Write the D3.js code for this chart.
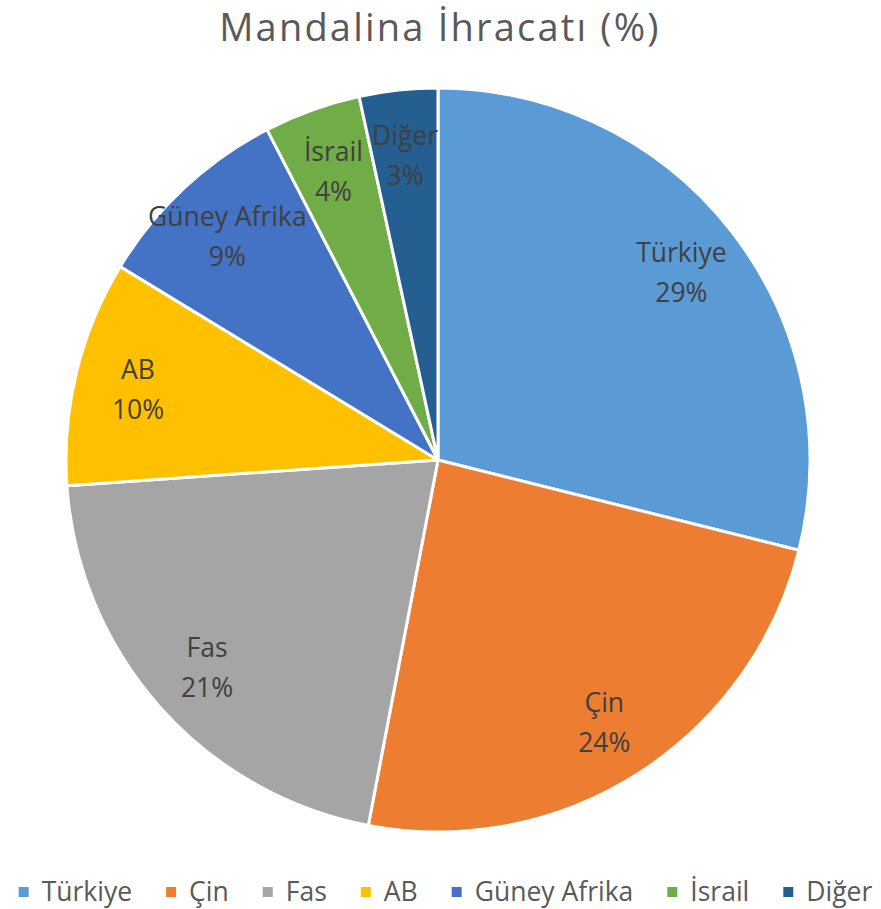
<!DOCTYPE html>
<html><head><meta charset="utf-8">
<script src="https://cdn.jsdelivr.net/npm/d3@7"></script>
<style>body{margin:0;background:#fff}svg{display:block}</style>
</head><body>
<svg id="c" width="881" height="909"></svg>
<script>
const categories = ["Türkiye", "Çin", "Fas", "AB", "Güney Afrika", "İsrail", "Diğer"];
const values = [28.9, 24.1, 20.9, 9.8, 8.7, 4.2, 3.4];
const colors = ["#5B9BD5", "#ED7D31", "#A5A5A5", "#FFC000", "#4472C4", "#70AD47", "#255E91"];
const title = "Mandalina İhracatı (%)";

const font = "'Open Sans', sans-serif";
const svg = d3.select("#c");
const W = 881, H = 909;
const cx = 438, cy = 460, R = 372;

svg.append("text").attr("x", cx + 2).attr("y", 41).attr("text-anchor", "middle")
  .attr("font-family", font).attr("font-size", 38).attr("letter-spacing", 2.2)
  .attr("fill", "#595959").text(title);

const data = categories.map((c, i) => ({cat: c, value: values[i], color: colors[i]}));
const total = d3.sum(values);
const pie = d3.pie().sort(null).value(d => d.value);
const arcs = pie(data);
const arc = d3.arc().innerRadius(0).outerRadius(R);
const labelArc = d3.arc().innerRadius(R * 0.83).outerRadius(R * 0.83);

const g = svg.append("g").attr("transform", `translate(${cx},${cy})`);
g.selectAll("path").data(arcs).join("path")
  .attr("d", arc).attr("fill", d => d.data.color)
  .attr("stroke", "#fff").attr("stroke-width", 3).attr("stroke-linejoin", "round");

const lab = g.selectAll("g.lab").data(arcs).join("g").attr("class", "lab")
  .attr("transform", d => `translate(${labelArc.centroid(d)})`);
lab.append("text").attr("text-anchor", "middle").attr("y", -8)
  .attr("font-family", font).attr("font-size", 26.5).attr("fill", "#404040")
  .text(d => d.data.cat);
lab.append("text").attr("text-anchor", "middle").attr("y", 32)
  .attr("font-family", font).attr("font-size", 26.5).attr("fill", "#404040")
  .text(d => Math.round(d.data.value / total * 100) + "%");

// legend
const leg = svg.append("g");
let x = 0;
data.forEach((d, i) => {
  const it = leg.append("g");
  it.append("rect").attr("x", 0).attr("y", -14).attr("width", 10).attr("height", 10).attr("fill", d.color);
  const t = it.append("text").attr("x", 23).attr("y", 0).attr("font-family", font)
    .attr("font-size", 26.5).attr("fill", "#595959").text(d.cat);
  const w = 23 + t.node().getComputedTextLength();
  it.attr("transform", `translate(${x},0)`);
  x += w + 34;
});
const legW = x - 34;
leg.attr("transform", `translate(${(W - legW) / 2 + 5},${901})`);
</script>
</body></html>
